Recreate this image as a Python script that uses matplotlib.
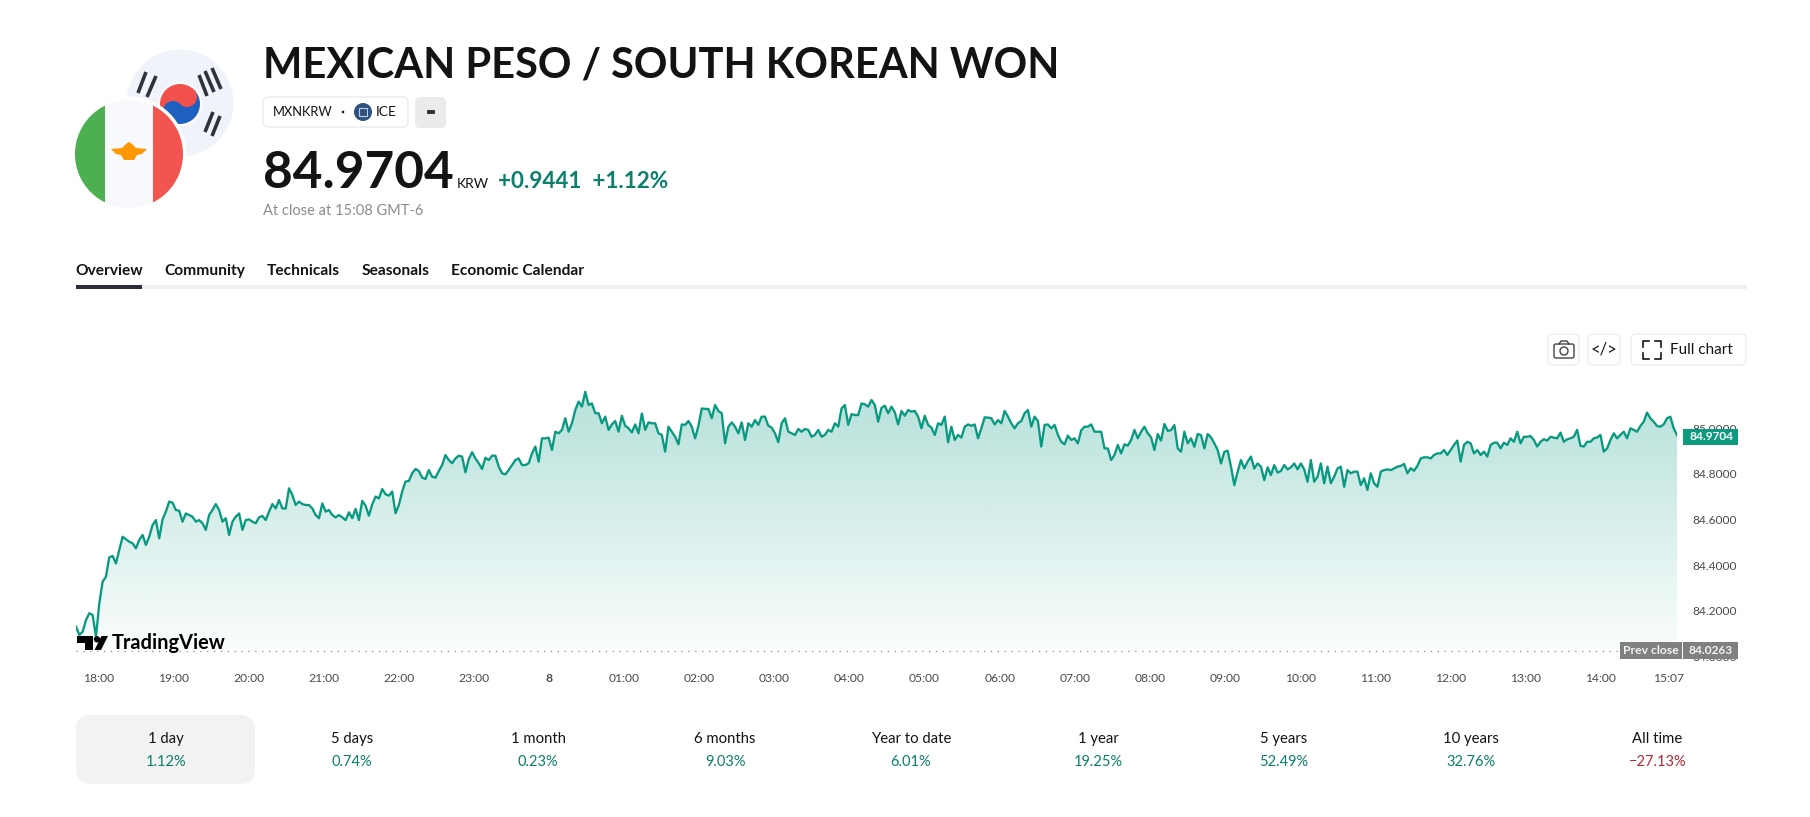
import numpy as np
import matplotlib
matplotlib.use("Agg")
import matplotlib.pyplot as plt
from matplotlib.patches import FancyBboxPatch, Circle, Wedge, Polygon, Rectangle

plt.rcParams['font.family'] = ['Lato', 'DejaVu Sans']

title = "MEXICAN PESO / SOUTH KOREAN WON"
symbol = "MXNKRW"
exchange = "ICE"
last_price = 84.9704
prev_close = 84.0263
change_text = "+0.9441  +1.12%"
tabs = ["Overview", "Community", "Technicals", "Seasonals", "Economic Calendar"]
periods = ["1 day", "5 days", "1 month", "6 months", "Year to date", "1 year", "5 years", "10 years", "All time"]
period_changes = ["1.12%", "0.74%", "0.23%", "9.03%", "6.01%", "19.25%", "52.49%", "32.76%", "\u221227.13%"]
time_labels = ["18:00", "19:00", "20:00", "21:00", "22:00", "23:00", "8", "01:00", "02:00", "03:00", "04:00",
               "05:00", "06:00", "07:00", "08:00", "09:00", "10:00", "11:00", "12:00", "13:00", "14:00", "15:07"]
time_ticks = [0, 1, 2, 3, 4, 5, 6, 7, 8, 9, 10, 11, 12, 13, 14, 15, 16, 17, 18, 19, 20, 20.91]
price_ticks = [84.0, 84.2, 84.4, 84.6, 84.8, 85.0]

prices_evening = [84.131, 84.095, 84.109, 84.160, 84.190, 84.182, 84.087, 84.233, 84.328, 84.350, 84.435, 84.441,
    84.408, 84.467, 84.525, 84.514, 84.503, 84.496, 84.474, 84.511, 84.533, 84.489, 84.525, 84.576, 84.598, 84.518,
    84.601, 84.635, 84.679, 84.674, 84.642, 84.639, 84.591, 84.627, 84.620, 84.613, 84.591, 84.598, 84.584, 84.555,
    84.620, 84.642, 84.668, 84.642, 84.591, 84.606, 84.533, 84.591, 84.613, 84.627, 84.555, 84.598, 84.601, 84.591,
    84.584, 84.610, 84.616, 84.598, 84.635, 84.668, 84.649, 84.686, 84.649, 84.649, 84.737, 84.708, 84.664, 84.679,
    84.668, 84.664, 84.664, 84.649, 84.620, 84.606, 84.671, 84.635, 84.642, 84.620, 84.610, 84.620, 84.610]
prices_night = [84.598, 84.632, 84.606, 84.647, 84.598, 84.682, 84.661, 84.617, 84.667, 84.701, 84.693, 84.734,
    84.711, 84.705, 84.723, 84.628, 84.664, 84.723, 84.767, 84.769, 84.803, 84.822, 84.813, 84.784, 84.778, 84.817,
    84.788, 84.784, 84.813, 84.839, 84.883, 84.861, 84.847, 84.868, 84.880, 84.876, 84.807, 84.865, 84.895, 84.868,
    84.847, 84.822, 84.871, 84.861, 84.880, 84.880, 84.832, 84.803, 84.798, 84.817, 84.839, 84.861, 84.868, 84.839,
    84.839, 84.847, 84.890, 84.920, 84.854, 84.956, 84.956, 84.959, 84.905, 84.985, 84.978, 84.993, 85.044, 84.985,
    85.022, 85.080, 85.117, 85.095, 85.160, 85.102, 85.109, 85.066, 85.066, 85.022, 85.051, 84.993]
prices_early = [85.017, 85.032, 84.985, 85.055, 85.011, 85.000, 84.982, 85.017, 84.978, 85.065, 84.993, 85.026,
    85.022, 85.022, 84.978, 84.971, 84.898, 85.007, 84.985, 84.963, 84.930, 85.017, 85.015, 85.032, 85.007, 84.956,
    85.011, 85.087, 85.085, 85.085, 85.044, 85.102, 85.076, 85.066, 84.934, 85.007, 85.026, 85.007, 84.978, 85.026,
    84.949, 85.022, 85.007, 85.036, 85.015, 85.051, 85.051, 85.011, 85.003, 84.978, 84.939, 85.022, 85.044, 84.985,
    84.978, 84.971, 84.997, 84.985, 84.997, 84.993, 84.963, 84.971, 84.993, 84.963, 84.971, 84.993, 84.985, 85.022,
    85.007, 85.087, 85.102, 85.015, 85.062, 85.058, 85.058, 85.109, 85.105, 85.095, 85.124]
prices_morning = [85.102, 85.029, 85.090, 85.099, 85.066, 85.095, 85.070, 85.017, 85.076, 85.055, 85.080, 85.073,
    85.076, 85.051, 85.000, 85.055, 85.015, 85.003, 84.971, 85.022, 85.015, 85.051, 84.939, 85.007, 84.949, 84.971,
    84.959, 85.007, 85.017, 85.011, 85.017, 84.956, 85.000, 85.048, 85.047, 85.044, 85.017, 85.036, 85.022, 85.076,
    85.051, 85.022, 85.000, 85.022, 85.032, 85.066, 85.080, 85.007, 85.051, 85.032, 84.920, 85.015, 85.017, 85.000,
    85.015, 84.971, 84.941, 84.930, 84.968, 84.949, 84.956, 84.934, 84.991, 85.007, 85.007, 85.017, 84.985, 84.985,
    84.985, 84.912, 84.912, 84.861, 84.883, 84.927, 84.890, 84.930, 84.924, 84.949, 84.993, 84.956]
prices_midday = [84.985, 85.007, 84.978, 84.960, 84.905, 84.975, 84.946, 85.019, 84.989, 84.992, 85.014, 84.912,
    84.897, 84.985, 84.934, 84.956, 84.919, 84.975, 84.970, 84.912, 84.975, 84.960, 84.934, 84.905, 84.846, 84.897,
    84.902, 84.832, 84.751, 84.810, 84.861, 84.824, 84.854, 84.876, 84.824, 84.846, 84.832, 84.773, 84.829, 84.795,
    84.839, 84.806, 84.813, 84.839, 84.820, 84.829, 84.846, 84.820, 84.846, 84.820, 84.766, 84.861, 84.766, 84.788,
    84.846, 84.759, 84.832, 84.759, 84.788, 84.824, 84.832, 84.744, 84.817, 84.803, 84.810, 84.810, 84.751, 84.781,
    84.730, 84.803, 84.759, 84.744, 84.810, 84.817, 84.820, 84.817, 84.824, 84.832, 84.835]
prices_afternoon = [84.844, 84.803, 84.825, 84.814, 84.835, 84.868, 84.873, 84.873, 84.868, 84.883, 84.890, 84.890,
    84.905, 84.883, 84.905, 84.927, 84.946, 84.854, 84.927, 84.941, 84.934, 84.890, 84.905, 84.883, 84.898, 84.876,
    84.927, 84.937, 84.937, 84.912, 84.937, 84.927, 84.956, 84.941, 84.985, 84.934, 84.963, 84.963, 84.966, 84.949,
    84.920, 84.941, 84.952, 84.946, 84.963, 84.959, 84.956, 84.981, 84.941, 84.952, 84.956, 84.963, 84.993, 84.923,
    84.920, 84.941, 84.941, 84.956, 84.960, 84.971, 84.898, 84.912, 84.949, 84.978, 84.956, 84.971, 84.985, 84.956,
    85.000, 84.993, 84.985, 85.010, 85.029, 85.069, 85.044, 85.029, 85.010, 85.007, 85.017, 85.044, 85.051, 85.000,
    84.9704]

prices = np.array(prices_evening + prices_night + prices_early + prices_morning + prices_midday + prices_afternoon)
hours = np.linspace(-0.30, 21.02, len(prices))

W, H = 1810, 817
GREEN = "#089981"
TEAL_TEXT = "#0B7F6C"
RED_TEXT = "#B22833"
INK = "#131313"

fig = plt.figure(figsize=(W / 100, H / 100), dpi=100, facecolor="white")

# main chart axes: pixel box 76..1677 horizontally, 340..665 vertically
ax = fig.add_axes([76 / W, 1 - 665 / H, (1677 - 76) / W, (665 - 340) / H], facecolor="none")
ax.set_xlim(-0.30, 21.02)
ax.set_ylim(83.9632, 85.3868)
for s in ax.spines.values():
    s.set_visible(False)

fill = ax.fill_between(hours, prices, prev_close, color="none", lw=0)
clip = fill.get_paths()[0]
grad = np.zeros((256, 2, 4))
rgb = matplotlib.colors.to_rgb(GREEN)
grad[..., 0], grad[..., 1], grad[..., 2] = rgb
grad[..., 3] = np.linspace(0.30, 0.02, 256)[:, None]
img = ax.imshow(grad, extent=(-0.30, 21.02, prev_close, 85.17), aspect="auto", origin="upper",
                interpolation="bilinear", zorder=1)
img.set_clip_path(clip, transform=ax.transData)
ax.set_xlim(-0.30, 21.02)
ax.set_ylim(83.9632, 85.3868)
ax.plot(hours, prices, color=GREEN, lw=1.65, zorder=3, solid_joinstyle="round")
ax.plot([-0.30, 20.28], [prev_close, prev_close], color="#8a8a8a", lw=0.9, ls=(0, (1, 4.5)), zorder=2)

ax.yaxis.tick_right()
ax.set_yticks(price_ticks)
ax.set_yticklabels([f"{p:.4f}" for p in price_ticks], fontsize=8.6, color="#4a4a4a")
ax.tick_params(axis="y", length=0, pad=11)
ax.set_xticks(time_ticks)
ax.set_xticklabels(time_labels, fontsize=8.7, color="#4a4a4a")
ax.tick_params(axis="x", length=0, pad=6)
for lab in ax.get_xticklabels():
    if lab.get_text() == "8":
        lab.set_fontweight("bold")

# page furniture drawn in pixel coordinates
ui = fig.add_axes([0, 0, 1, 1], facecolor="none", zorder=5)
ui.set_xlim(0, W)
ui.set_ylim(H, 0)
ui.axis("off")


def box(x0, y0, x1, y1, r, fc, ec="none", lw=0.8, z=2):
    ui.add_patch(FancyBboxPatch((x0 + r, y0 + r), x1 - x0 - 2 * r, y1 - y0 - 2 * r,
                                boxstyle=f"round,pad={r},rounding_size={r}", fc=fc, ec=ec, lw=lw, zorder=z))


def txt(x, y, s, size, color=INK, weight="normal", ha="left", va="baseline", z=6):
    ui.text(x, y, s, fontsize=size, color=color, fontweight=weight, ha=ha, va=va, zorder=z)


# flags
ui.add_patch(Circle((180, 103), 53.5, fc="#F0F3FA", ec="none", zorder=1))
ui.add_patch(Circle((180, 104), 22, fc="white", ec="none", zorder=1.1))
ui.add_patch(Wedge((180, 104), 20, -45, 135, fc="#1E60C0", ec="none", zorder=1.2))
ui.add_patch(Wedge((180, 104), 20, 135, 315, fc="#F2504B", ec="none", zorder=1.2))
ui.add_patch(Circle((187, 97), 10, fc="#F2504B", ec="none", zorder=1.3))
ui.add_patch(Circle((173, 111), 10, fc="#1E60C0", ec="none", zorder=1.3))
for x0, x1, y0, y1 in [(146, 138, 72, 93), (156, 147, 76, 97),
                       (205, 214, 71, 92), (199, 207, 75, 96), (212, 221, 68, 89),
                       (213, 205, 112, 132), (220, 212, 116, 136)]:
    ui.plot([x0, x1], [y0, y1], color="#2E3239", lw=2.6, zorder=1.4, solid_capstyle="butt")

ui.add_patch(Circle((129, 154), 57.5, fc="white", ec="none", zorder=1.5))
mex = Circle((129, 154), 54, fc="#F8F9FD", ec="none", zorder=1.6)
ui.add_patch(mex)
for x0, x1, c in [(70, 105, "#4CAF50"), (153, 190, "#F2554F")]:
    r = Rectangle((x0, 95), x1 - x0, 120, fc=c, ec="none", zorder=1.7)
    ui.add_patch(r)
    r.set_clip_path(mex)
ui.add_patch(Polygon([(111, 149), (122, 148), (126, 144), (129, 142), (132, 144), (136, 148), (147, 149),
                      (142, 154), (137, 155), (134, 160), (124, 160), (121, 155), (116, 154)],
                     fc="#FF9800", ec="none", zorder=1.8))

# header
txt(263, 77, title, 30, weight="bold")
box(263, 97, 408, 127, 5, "white", "#E6E6E6")
txt(303, 112, symbol, 9.3, ha="center", va="center")
ui.add_patch(Circle((343, 112), 1.3, fc=INK, ec="none", zorder=4))
ui.add_patch(Circle((363, 112), 9, fc="#2F5280", ec="none", zorder=4))
ui.add_patch(Rectangle((359, 108), 8, 8, fc="none", ec="#BFD0E6", lw=0.8, zorder=4.5))
txt(386, 112, exchange, 10, ha="center", va="center")
box(415, 97, 446, 128, 5, "#EBEBEB")
box(427, 110, 435, 114, 1, "#333333", z=3)
txt(263, 188, f"{last_price:.4f}", 37, weight="bold")
txt(457, 188, "KRW", 10)
txt(498, 188, change_text, 16.2, color=TEAL_TEXT, weight="bold")
txt(263, 215, "At close at 15:08 GMT-6", 10.5, color="#8C8C8C")

tab_x = [75, 164, 267, 362, 451]
for x, t in zip(tab_x, tabs):
    txt(x, 275, t, 11.2, weight="bold")
ui.add_patch(Rectangle((76, 285), 1671, 4, fc="#F0F0F0", ec="none", zorder=2))
ui.add_patch(Rectangle((76, 285), 66, 4, fc="#2A2E39", ec="none", zorder=3))

# chart toolbar
box(1548, 334, 1579, 365, 5, "white", "#EAEAEA")
box(1588, 334, 1620, 365, 5, "white", "#EAEAEA")
box(1631, 334, 1746, 365, 5, "white", "#EAEAEA")
box(1554, 344, 1574, 358, 2, "none", "#444444", lw=1, z=4)
ui.plot([1559, 1561, 1567, 1569], [344, 341, 341, 344], color="#444444", lw=1, zorder=4)
ui.add_patch(Circle((1564, 351), 4, fc="none", ec="#444444", lw=1, zorder=4))
txt(1604, 349.5, "</>", 12, ha="center", va="center")
for sx, sy, cx, cy in [(1, 1, 1643, 341), (-1, 1, 1661, 341), (1, -1, 1643, 359), (-1, -1, 1661, 359)]:
    ui.plot([cx, cx, cx + 6 * sx], [cy + 6 * sy, cy, cy], color=INK, lw=1.2, zorder=4, solid_joinstyle="round")
txt(1670, 350, "Full chart", 11, va="center")

# price labels
ui.add_patch(Rectangle((1683, 429), 55, 15.5, fc="#0D9B80", ec="none", zorder=4))
txt(1711, 436.8, f"{last_price:.4f}", 8.6, color="white", ha="center", va="center", weight="bold")
ui.add_patch(Rectangle((1620, 642), 62, 17, fc="#808080", ec="none", zorder=4))
ui.add_patch(Rectangle((1683, 642), 55, 17, fc="#808080", ec="none", zorder=4))
txt(1651, 650.5, "Prev close", 8.7, color="#F4F4F4", ha="center", va="center", weight="bold")
txt(1711, 650.5, f"{prev_close:.4f}", 8.6, color="#F4F4F4", ha="center", va="center", weight="bold")

# TradingView mark
ui.add_patch(Polygon([(77, 636), (93, 636), (93, 650), (84.5, 650), (84.5, 642.5), (77, 642.5)], fc="black", ec="none", zorder=4))
ui.add_patch(Circle((97, 639.3), 3.2, fc="black", ec="none", zorder=4))
ui.add_patch(Polygon([(94.5, 650), (101.5, 636), (108, 636), (101, 650)], fc="black", ec="none", zorder=4))
txt(112, 649, "TradingView", 14.4, color="black", weight="bold")

# period strip
box(76, 715, 255, 784, 15, "#F2F2F2", z=1)
centers = [165.6, 352, 538, 725, 911, 1098, 1284, 1471, 1657.6]
for cx, p, c in zip(centers, periods, period_changes):
    txt(cx, 743, p, 10.7, ha="center")
    txt(cx, 766, c, 10.5, color=RED_TEXT if c.startswith("\u2212") else TEAL_TEXT, ha="center")

fig.savefig("out.png", dpi=100, facecolor="white")
